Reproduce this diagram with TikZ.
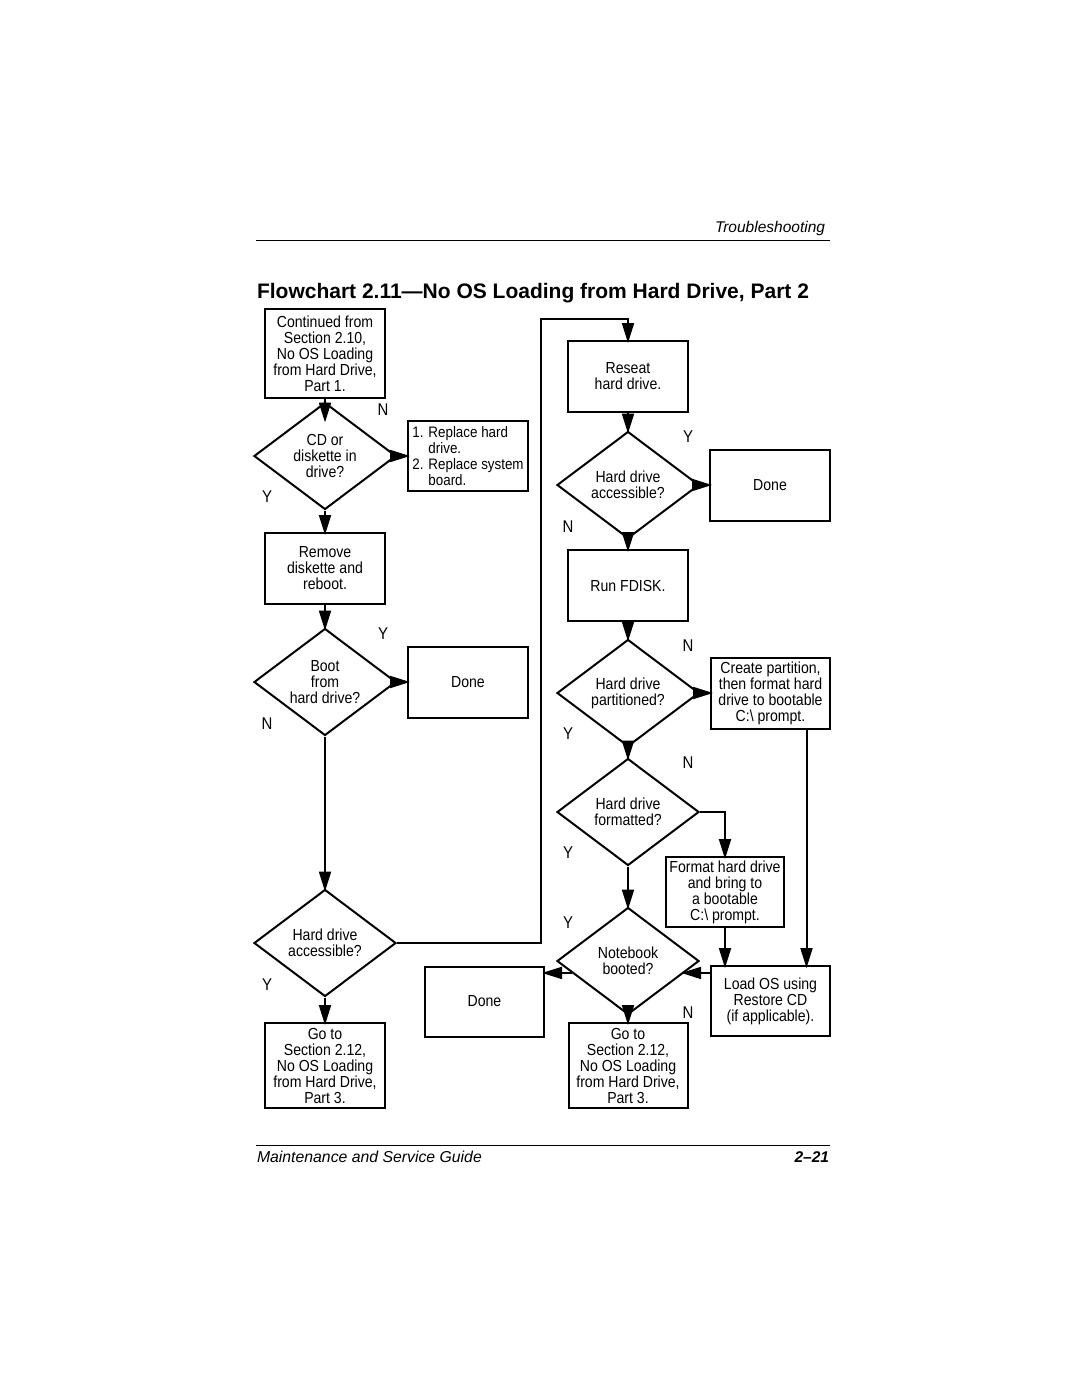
\documentclass[tikz,border=0pt]{standalone}
\usepackage{fontspec}
\setmainfont{Liberation Sans}
\newfontfamily\narrowsf{Liberation Sans}[FakeStretch=0.88]
\usetikzlibrary{arrows.meta,shapes.geometric}

\begin{document}
\begin{tikzpicture}[x=1pt,y=-1pt,line width=2pt,
	every node/.style={font=\narrowsf\fontsize{16}{16}\selectfont},
	box/.style={draw,minimum width=120pt,minimum height=71pt,inner sep=1pt,align=center},
	dec/.style={draw,diamond,aspect=1.33,minimum width=142pt,minimum height=107pt,inner sep=0pt,align=center},
	arr/.style={-{Triangle[length=20pt,width=12pt]},shorten >=-3pt},
	yn/.style={font=\narrowsf\fontsize{17}{17}\selectfont}]
	\fill[white] (0,0) rectangle (1080,1397);
	\useasboundingbox (0,0) rectangle (1080,1397);
	% page head and foot
	\node[anchor=east,inner sep=0pt,font=\itshape\fontsize{15.5}{16}\selectfont] (head) at (826,228) {Troubleshooting};
	\draw[line width=1pt] (256,240) -- (830,240);
	\node[anchor=west,inner sep=0pt,font=\bfseries\fontsize{21}{23}\selectfont] (title) at (256,293) {Flowchart 2.11—No OS Loading from Hard Drive, Part 2};
	\draw[line width=1pt] (256,1145) -- (830,1145);
	\node[anchor=west,inner sep=0pt,font=\itshape\fontsize{15.8}{16}\selectfont] (foot) at (256,1157) {Maintenance and Service Guide};
	\node[anchor=east,inner sep=0pt,font=\bfseries\itshape\fontsize{15.5}{16}\selectfont] (page) at (830,1157) {2–21};
	% left column
	\node[box,minimum height=89pt] (cont) at (325,353.5) {Continued from\\Section 2.10,\\No OS Loading\\from Hard Drive,\\Part 1.};
	\node[dec] (cd) at (325,456) {CD or\\diskette in\\drive?};
	\node[box,minimum height=70pt,align=left,font=\narrowsf\fontsize{15.2}{16}\selectfont] (repl) at (468,456) {1. Replace hard\\\phantom{1. }drive.\\2. Replace system\\\phantom{2. }board.};
	\node[box] (remove) at (325,568.5) {Remove\\diskette and\\reboot.};
	\node[dec] (boot) at (325,682) {Boot\\from\\hard drive?};
	\node[box] (done1) at (468,682) {Done};
	\node[dec] (acc1) at (325,943) {Hard drive\\accessible?};
	\node[box,minimum height=85pt] (goto1) at (325,1065.5) {Go to\\Section 2.12,\\No OS Loading\\from Hard Drive,\\Part 3.};
	% right column
	\node[box] (reseat) at (628,376.5) {Reseat\\hard drive.};
	\node[dec] (acc2) at (628,485) {Hard drive\\accessible?};
	\node[box] (done2) at (770,485) {Done};
	\node[box] (fdisk) at (628,585.5) {Run FDISK.};
	\node[dec] (part) at (628,693) {Hard drive\\partitioned?};
	\node[box,minimum width=119pt] (create) at (770.5,693) {Create partition,\\then format hard\\drive to bootable\\C:\textbackslash\ prompt.};
	\node[dec] (fmt) at (628,812) {Hard drive\\formatted?};
	\node[box,minimum width=118pt,minimum height=70pt,inner sep=0pt] (fmtbox) at (725,892) {Format hard drive\\and bring to\\a bootable\\C:\textbackslash\ prompt.};
	\node[dec] (nb) at (628,961) {Notebook\\booted?};
	\node[box,minimum width=119pt,minimum height=70pt] (loados) at (770.5,1001) {Load OS using\\Restore CD\\(if applicable).};
	\node[box,minimum width=119pt,minimum height=70pt] (done3) at (484.5,1001.5) {Done};
	\node[box,minimum width=119pt,minimum height=85pt] (goto2) at (628,1065.5) {Go to\\Section 2.12,\\No OS Loading\\from Hard Drive,\\Part 3.};
	\coordinate (loop) at (541,319);
	% connectors
	\draw[arr,shorten >=-21pt] (cont) -- (cd);
	\draw[arr] (cd) -- (repl);
	\draw[arr] (cd) -- (remove);
	\draw[arr] (remove) -- (boot);
	\draw[arr] (boot) -- (done1);
	\draw[arr] (boot) -- (acc1);
	\draw[arr] (acc1) -- (goto1);
	\draw[arr] (acc1.east) -| (loop) -| (reseat.north);
	\draw[arr] (reseat) -- (acc2);
	\draw[arr] (acc2) -- (done2);
	\draw[arr] (acc2) -- (fdisk);
	\draw[arr] (fdisk) -- (part);
	\draw[arr] (part) -- (create);
	\draw[arr] (part) -- (fmt);
	\draw[arr] (fmt.east) -| (fmtbox.north);
	\draw[arr] (fmt) -- (nb);
	\draw[arr] (fmtbox.south) -- (fmtbox.south |- loados.north);
	\draw[arr] ([xshift=36pt]create.south) -- ([xshift=36pt]create.south |- loados.north);
	\draw[arr] (loados.west |- nb.-12) -- (nb.-12);
	\draw[arr] (nb.-168) -- (done3.east |- nb.-168);
	\draw[arr] (nb) -- (goto2);
	\foreach \t/\x/\y [count=\i] in {N/383/410,Y/267/497,Y/383/634,N/267/724,Y/267/985,Y/688/437,N/568/527,N/688/646,Y/568/734,N/688/763,Y/568/853,Y/568/923,N/688/1013}
		\node[yn] (lbl\i) at (\x,\y) {\t};
\end{tikzpicture}
\end{document}
